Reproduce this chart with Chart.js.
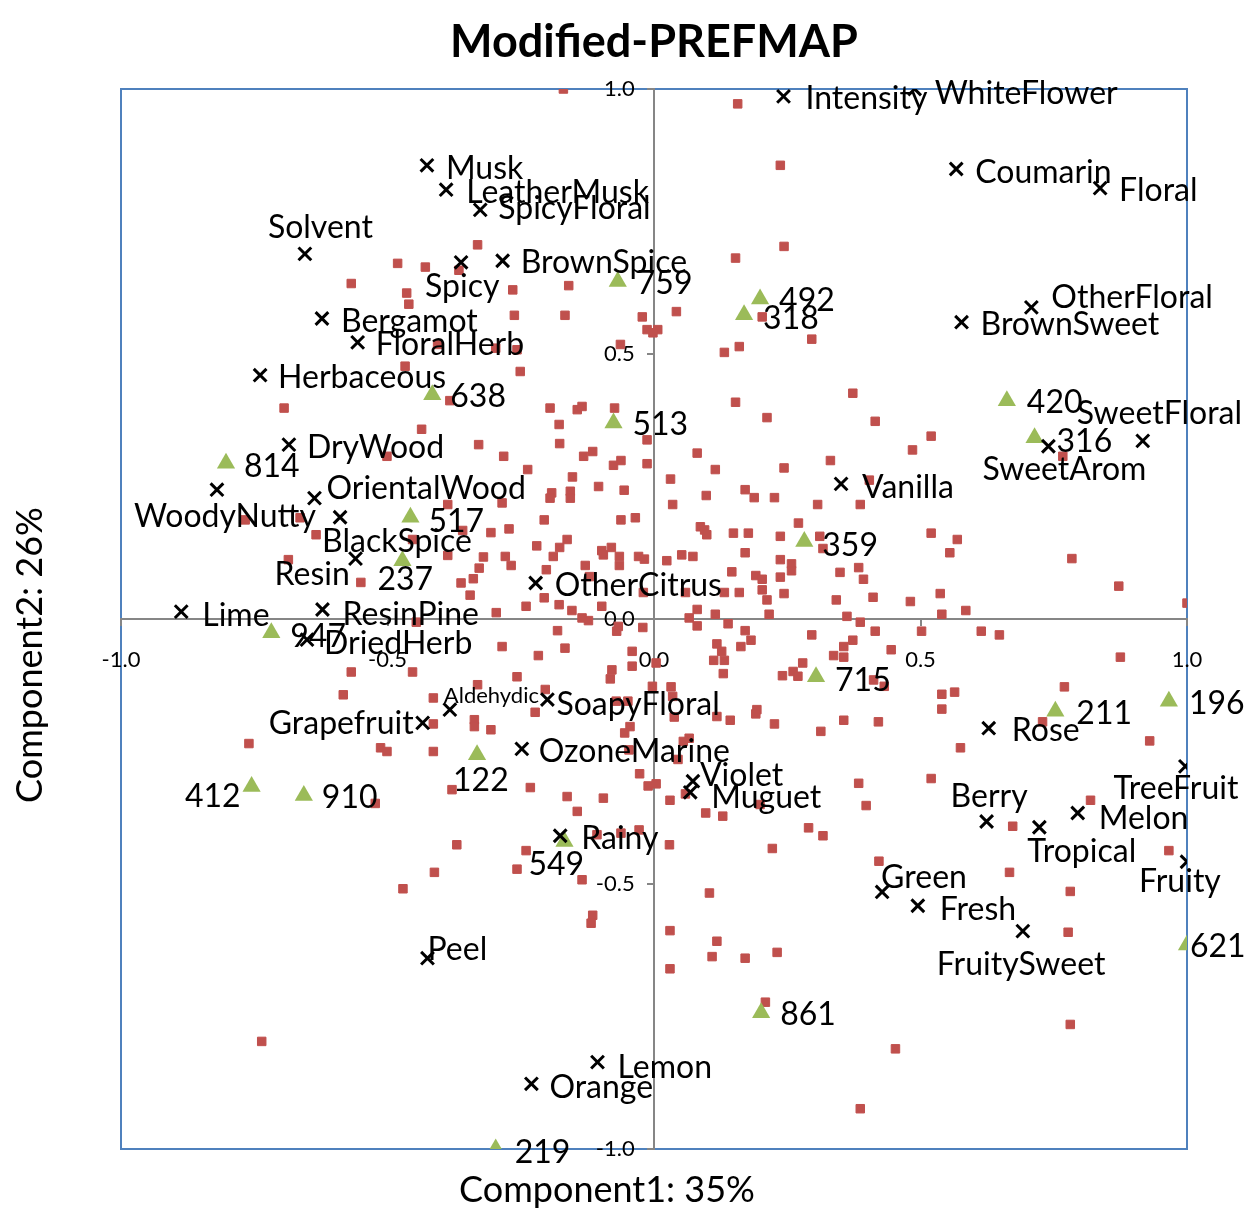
<!DOCTYPE html>
<html>
<head>
<meta charset="utf-8">
<script src="https://cdn.jsdelivr.net/npm/chart.js@4.4.0/dist/chart.umd.min.js"></script>
<style>
  html, body { margin: 0; padding: 0; background: #fff; }
</style>
</head>
<body>
<canvas id="prefmap" width="1249" height="1228"></canvas>
<script>
// consumers (red squares)
const consumerX = [
  -0.331, -0.481, -0.429, -0.366, -0.568, -0.464, -0.460, -0.406, -0.467, -0.383, -0.694, -0.436,
  -0.170, 0.157, 0.237, 0.244, 0.153, -0.265, -0.160, 0.042, -0.262, -0.167, -0.022, 0.203,
  -0.013, 0.007, -0.002, 0.296, -0.297, -0.257, -0.063, 0.132, 0.160, -0.251, -0.195, -0.144,
  -0.135, -0.074, 0.153, 0.212, -0.178, -0.013, 0.373, 0.415, 0.520, -0.329, -0.501, -0.387,
  -0.767, -0.664, -0.634, -0.359, -0.453, -0.387, -0.320, -0.328, -0.686, -0.339, -0.362, -0.550,
  -0.345, -0.446, -0.568, -0.453, -0.583, -0.414, -0.331, -0.414, -0.337, -0.337, -0.760, -0.513,
  -0.501, -0.414, -0.379, -0.177, -0.282, -0.132, -0.115, -0.076, -0.062, -0.013, 0.081, -0.237,
  0.115, 0.244, 0.331, -0.153, 0.031, -0.104, -0.056, -0.192, -0.195, -0.157, -0.157, -0.285,
  0.098, 0.171, 0.188, 0.226, 0.035, 0.307, -0.206, -0.062, -0.035, -0.306, -0.272, 0.087,
  0.095, 0.099, 0.149, 0.177, 0.237, 0.271, 0.311, -0.163, -0.220, -0.177, -0.098, -0.095,
  -0.080, -0.065, -0.065, -0.029, -0.018, 0.024, 0.052, 0.073, 0.171, 0.237, 0.258, 0.258,
  0.317, -0.279, -0.268, -0.189, -0.202, -0.129, -0.121, 0.146, 0.191, 0.203, 0.237, 0.349,
  -0.206, -0.240, -0.178, -0.154, -0.098, -0.135, -0.123, -0.020, 0.059, 0.132, 0.160, 0.203,
  0.212, 0.244, 0.342, -0.296, 0.081, 0.115, 0.066, 0.216, 0.081, 0.139, -0.070, -0.067,
  -0.021, -0.181, 0.171, 0.182, 0.163, 0.296, -0.285, -0.167, -0.041, 0.118, 0.127, -0.217,
  -0.041, 0.004, 0.112, 0.132, 0.130, 0.279, 0.337, 0.261, 0.270, 0.241, -0.079, -0.082,
  -0.257, -0.003, 0.032, 0.035, -0.204, -0.049, -0.071, -0.223, -0.306, 0.038, 0.118, 0.143,
  0.193, 0.191, 0.226, 0.313, -0.045, -0.055, 0.066, 0.055, -0.047, 0.045, -0.027, -0.232,
  -0.011, 0.004, 0.485, 0.404, 0.387, 0.767, 0.520, 0.569, 0.555, 0.784, 0.384, 0.393,
  0.872, 0.411, 0.481, 0.537, 0.540, 0.585, 1.000, 0.362, 0.387, 0.415, 0.502, 0.614,
  0.648, 0.373, 0.356, 0.356, 0.445, 0.875, 0.412, 0.432, 0.770, 0.540, 0.564, 0.540,
  0.356, 0.421, 0.729, 0.575, 0.930, 0.384, 0.520, -0.523, -0.370, -0.412, -0.471, -0.736,
  -0.163, -0.095, -0.144, 0.030, 0.059, 0.097, 0.129, 0.199, -0.107, -0.062, -0.028, 0.029,
  0.290, 0.317, 0.222, -0.240, -0.257, -0.135, 0.104, -0.115, -0.118, 0.030, 0.118, 0.109,
  0.171, 0.231, 0.030, 0.209, 0.398, 0.673, 0.819, 0.422, 0.667, 0.781, 0.966, 0.777,
  0.781, 0.453, 0.387
];
const consumerY = [
  0.706, 0.671, 0.664, 0.658, 0.633, 0.615, 0.594, 0.518, 0.477, 0.412, 0.398, 0.358,
  1.000, 0.972, 0.856, 0.703, 0.681, 0.621, 0.629, 0.580, 0.573, 0.573, 0.570, 0.570,
  0.546, 0.546, 0.540, 0.528, 0.511, 0.508, 0.518, 0.503, 0.514, 0.467, 0.398, 0.395,
  0.401, 0.398, 0.409, 0.380, 0.367, 0.338, 0.426, 0.373, 0.345, 0.329, 0.307, 0.216,
  0.187, 0.191, 0.159, 0.167, 0.150, 0.120, 0.117, 0.096, 0.112, 0.076, 0.068, 0.069,
  0.045, -0.006, -0.100, -0.100, -0.143, -0.149, -0.124, -0.198, -0.190, -0.203, -0.235, -0.243,
  -0.250, -0.250, -0.322, 0.331, 0.307, 0.307, 0.316, 0.290, 0.299, 0.293, 0.313, 0.282,
  0.282, 0.285, 0.299, 0.268, 0.264, 0.250, 0.243, 0.238, 0.228, 0.241, 0.228, 0.219,
  0.233, 0.244, 0.229, 0.229, 0.216, 0.216, 0.187, 0.187, 0.191, 0.163, 0.170, 0.174,
  0.168, 0.159, 0.162, 0.162, 0.156, 0.181, 0.156, 0.150, 0.138, 0.135, 0.129, 0.121,
  0.135, 0.118, 0.101, 0.118, 0.113, 0.110, 0.121, 0.118, 0.125, 0.112, 0.104, 0.091,
  0.133, 0.118, 0.101, 0.118, 0.093, 0.101, 0.080, 0.089, 0.082, 0.075, 0.079, 0.088,
  0.040, 0.024, 0.027, 0.016, 0.024, 0.002, -0.003, 0.050, 0.050, 0.050, 0.050, 0.055,
  0.036, 0.048, 0.036, 0.012, 0.018, 0.009, 0.002, 0.009, -0.013, -0.009, -0.023, -0.014,
  -0.016, -0.022, -0.022, -0.040, -0.052, -0.030, -0.052, -0.055, -0.061, -0.047, -0.061, -0.069,
  -0.089, -0.083, -0.078, -0.078, -0.103, -0.083, -0.069, -0.099, -0.108, -0.107, -0.096, -0.113,
  -0.109, -0.127, -0.128, -0.146, -0.133, -0.155, -0.155, -0.176, -0.209, -0.185, -0.184, -0.191,
  -0.171, -0.179, -0.198, -0.212, -0.203, -0.215, -0.225, -0.231, -0.247, -0.265, -0.292, -0.318,
  -0.315, -0.311, 0.319, 0.262, 0.216, 0.307, 0.162, 0.150, 0.125, 0.114, 0.097, 0.075,
  0.062, 0.041, 0.033, 0.048, 0.009, 0.016, 0.030, 0.005, -0.006, -0.023, -0.023, -0.023,
  -0.030, -0.040, -0.052, -0.072, -0.058, -0.072, -0.115, -0.127, -0.128, -0.142, -0.138, -0.170,
  -0.191, -0.194, -0.194, -0.243, -0.230, -0.310, -0.301, -0.348, -0.426, -0.478, -0.509, -0.797,
  -0.335, -0.338, -0.363, -0.342, -0.330, -0.366, -0.372, -0.350, -0.407, -0.404, -0.398, -0.426,
  -0.394, -0.409, -0.433, -0.437, -0.472, -0.492, -0.517, -0.559, -0.574, -0.588, -0.608, -0.637,
  -0.640, -0.629, -0.660, -0.723, -0.352, -0.391, -0.342, -0.457, -0.478, -0.514, -0.437, -0.591,
  -0.765, -0.811, -0.924
];

// products (green triangles)
const productNames = ['759', '492', '318', '638', '513', '420', '316', '814', '517', '359', '237',
  '947', '715', '211', '196', '122', '412', '910', '549', '621', '861', '219'];
const productX = [-0.068, 0.199, 0.169, -0.416, -0.076, 0.662, 0.714, -0.803, -0.457, 0.282, -0.472,
  -0.718, 0.304, 0.753, 0.966, -0.332, -0.755, -0.657, -0.168, 1.000, 0.201, -0.297];
const productY = [0.637, 0.604, 0.574, 0.423, 0.370, 0.412, 0.342, 0.294, 0.192, 0.146, 0.110,
  -0.026, -0.109, -0.174, -0.155, -0.256, -0.316, -0.333, -0.420, -0.615, -0.743, -1.000];

// sensory attributes (black crosses)
const attributeNames = ['Intensity', 'WhiteFlower', 'Musk', 'LeatherMusk', 'SpicyFloral', 'Solvent',
  'Spicy', 'BrownSpice', 'Coumarin', 'Floral', 'Bergamot', 'FloralHerb', 'Herbaceous', 'OtherFloral',
  'BrownSweet', 'SweetArom', 'SweetFloral', 'DryWood', 'Vanilla', 'WoodyNutty', 'OrientalWood',
  'BlackSpice', 'Resin', 'OtherCitrus', 'Lime', 'ResinPine', 'DriedHerb', 'Aldehydic', 'Grapefruit',
  'SoapyFloral', 'OzoneMarine', 'Violet', 'Muguet', 'Rose', 'TreeFruit', 'Berry', 'Tropical', 'Melon',
  'Fruity', 'Rainy', 'Green', 'Fresh', 'FruitySweet', 'Peel', 'Lemon', 'Orange'];
const attributeX = [0.243, 0.489, -0.426, -0.390, -0.326, -0.655, -0.362, -0.284, 0.567, 0.837,
  -0.623, -0.556, -0.739, 0.708, 0.577, 0.740, 0.917, -0.685, 0.351, -0.820, -0.637, -0.589, -0.560,
  -0.222, -0.887, -0.622, -0.651, -0.383, -0.434, -0.200, -0.248, 0.073, 0.068, 0.628, 0.997, 0.624,
  0.723, 0.795, 1.000, -0.176, 0.428, 0.495, 0.692, -0.425, -0.106, -0.230];
const attributeY = [0.986, 1.000, 0.856, 0.810, 0.772, 0.689, 0.673, 0.676, 0.849, 0.813, 0.567,
  0.522, 0.460, 0.588, 0.560, 0.326, 0.336, 0.329, 0.255, 0.244, 0.228, 0.192, 0.114, 0.068, 0.014,
  0.018, -0.039, -0.171, -0.196, -0.152, -0.245, -0.306, -0.327, -0.206, -0.278, -0.382, -0.393,
  -0.366, -0.458, -0.409, -0.515, -0.541, -0.589, -0.640, -0.836, -0.877];

const axisTicks = [-1, -0.5, 0, 0.5, 1];

// where each label sits next to its marker: [dx, dy, align]
const productLabelPos = [
  [19, 1], [19, 1], [19, 3], [18, 1], [19, 1], [20, 1], [22, 3], [18, 2], [18, 3], [18, 3], [-25, 18],
  [19, 3], [19, 3], [21, 1], [20, 1], [-24, 25], [-11, 9, 'right'], [18, 1], [-36, 22], [3, 1], [19, 1], [19, 2]
];
const attributeLabelPos = [
  [22, 1], [20, 3], [19, 2], [20, 2], [18, -2], [-37, -27], [-36, 23], [18, 1], [19, 2], [19, 1],
  [19, 2], [18, 1], [18, 1], [20, -11], [19, 1], [-66, 22], [-66, -28], [18, 2], [21, 3], [-83, 26],
  [12, -11], [-18, 23], [-81, 15], [19, 2], [21, 3], [20, 4], [17, 3], [-6, -15], [-9, 0, 'right'],
  [9, 4], [17, 2], [7, -7], [21, 4], [23, 1], [-72, 21], [-36, -26], [-12, 23], [21, 4], [-48, 19],
  [21, 2], [-1, -15], [22, 3], [-86, 32], [0, -10], [20, 4], [18, 3]
];

const FONT = 'Lato';

const toPoints = (xs, ys) => xs.map((x, i) => ({x: x, y: ys[i]}));

// blue plot frame, drawn first so the axes and tick labels sit on top of it
const plotFrame = {
  id: 'plotFrame',
  beforeDraw(chart) {
    const {ctx, chartArea} = chart;
    ctx.save();
    ctx.strokeStyle = '#4F81BD';
    ctx.lineWidth = 2;
    ctx.strokeRect(chartArea.left, chartArea.top, chartArea.width, chartArea.height);
    ctx.restore();
  }
};

const pointLabels = {
  id: 'pointLabels',
  afterDatasetsDraw(chart) {
    const ctx = chart.ctx;
    ctx.save();
    ctx.fillStyle = '#000';
    ctx.textBaseline = 'alphabetic';
    chart.data.datasets.forEach((ds, di) => {
      if (!ds.names) return;
      const meta = chart.getDatasetMeta(di);
      meta.data.forEach((el, i) => {
        const [dx, dy, align] = ds.labelPos[i];
        const size = ds.names[i] === 'Aldehydic' ? 22 : 32;
        ctx.font = size + 'px ' + FONT;
        ctx.textAlign = align || 'left';
        ctx.fillText(ds.names[i], el.x + dx, el.y + dy + size * 0.36);
      });
    });
    ctx.restore();
  }
};

const axisTitles = {
  id: 'axisTitles',
  afterDraw(chart) {
    const {ctx, chartArea} = chart;
    ctx.save();
    ctx.fillStyle = '#000';
    ctx.font = '36px ' + FONT;
    ctx.textAlign = 'center';
    ctx.textBaseline = 'middle';
    ctx.fillText('Component1: 35%', chartArea.left + 486, chartArea.bottom + 41);
    ctx.translate(chartArea.left - 91, (chartArea.top + chartArea.bottom) / 2 + 36);
    ctx.rotate(-Math.PI / 2);
    ctx.fillText('Component2: 26%', 0, 0);
    ctx.restore();
  }
};

const tickFont = {family: FONT, size: 22};

new Chart(document.getElementById('prefmap'), {
  type: 'scatter',
  data: {
    datasets: [
      {
        label: 'Consumers',
        data: toPoints(consumerX, consumerY),
        pointStyle: 'rect',
        pointRadius: 6,
        backgroundColor: '#C0504D',
        borderColor: '#C0504D',
        borderWidth: 1,
        order: 3
      },
      {
        label: 'Products',
        data: toPoints(productX, productY),
        names: productNames,
        labelPos: productLabelPos,
        pointStyle: 'triangle',
        pointRadius: 10.5,
        backgroundColor: '#9BBB59',
        borderColor: '#9BBB59',
        borderWidth: 0,
        order: 2
      },
      {
        label: 'Attributes',
        data: toPoints(attributeX, attributeY),
        names: attributeNames,
        labelPos: attributeLabelPos,
        pointStyle: 'crossRot',
        pointRadius: 9,
        borderColor: '#000',
        borderWidth: 3,
        order: 1
      }
    ]
  },
  options: {
    responsive: false,
    animation: false,
    layout: {
      padding: {left: 121, right: 62, top: 0, bottom: 79}
    },
    scales: {
      x: {
        type: 'linear',
        min: -1,
        max: 1,
        position: {y: 0},
        afterBuildTicks: scale => { scale.ticks = axisTicks.map(v => ({value: v})); },
        ticks: {
          callback: v => v.toFixed(1),
          font: tickFont,
          color: '#000',
          padding: 22,
          autoSkip: false,
          maxRotation: 0
        },
        grid: {drawOnChartArea: false, tickLength: 6, color: '#868686', lineWidth: 2},
        border: {color: '#868686', width: 2}
      },
      y: {
        type: 'linear',
        min: -1,
        max: 1,
        position: {x: 0},
        afterBuildTicks: scale => { scale.ticks = axisTicks.map(v => ({value: v})); },
        ticks: {
          // centred axes ignore padding, so trailing spaces keep labels off the line
          callback: v => v.toFixed(1) + '\u2003\u2009',
          font: tickFont,
          color: '#000',
          autoSkip: false
        },
        grid: {drawOnChartArea: false, tickLength: 6, color: '#868686', lineWidth: 2},
        border: {color: '#868686', width: 2}
      }
    },
    plugins: {
      legend: {display: false},
      tooltip: {enabled: false},
      title: {
        display: true,
        text: 'Modified-PREFMAP',
        color: '#000',
        font: {family: FONT, size: 45, weight: 'bold'},
        padding: {top: 15, bottom: 20}
      }
    }
  },
  plugins: [plotFrame, pointLabels, axisTitles]
});
</script>
</body>
</html>
